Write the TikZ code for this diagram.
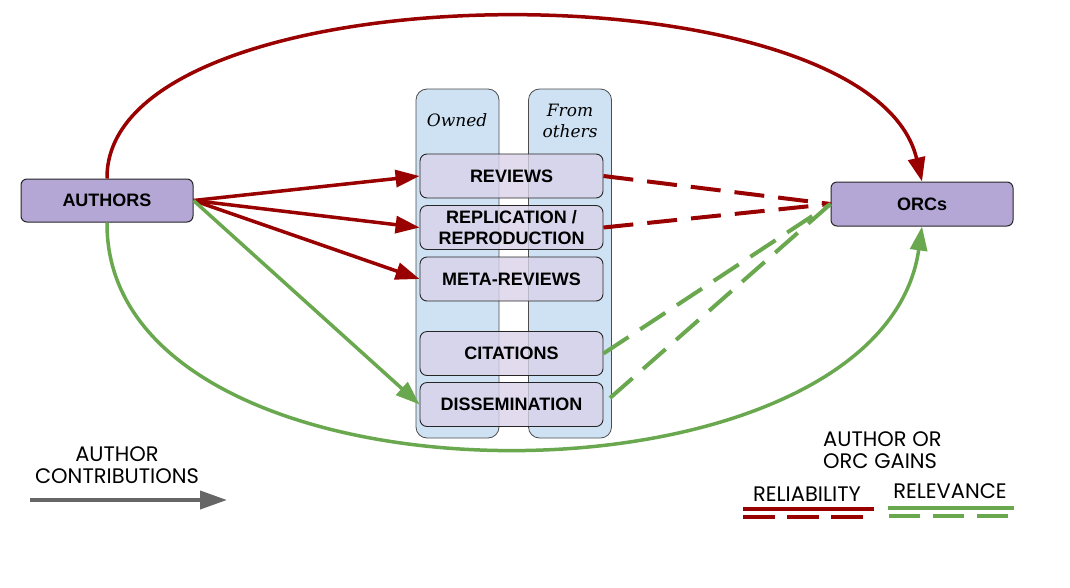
\documentclass[tikz,border=0pt]{standalone}
\usepackage{fontspec}
\setmainfont{Liberation Sans}
\newfontfamily\legfont{Poppins}
\newfontfamily\serifit{DejaVu Serif}
\usetikzlibrary{arrows.meta}
\definecolor{authfill}{HTML}{B4A7D6}
\definecolor{colfill}{HTML}{CFE2F3}
\definecolor{innerfill}{HTML}{D9D2E9}
\definecolor{redc}{HTML}{990000}
\definecolor{greenc}{HTML}{6AA84F}
\definecolor{grayc}{HTML}{666666}
\begin{document}
\begin{tikzpicture}[x=1pt,y=-1pt,
  actor/.style={draw=black!85, line width=1pt, fill=authfill, rounded corners=6pt, minimum width=172pt, minimum height=43pt, inner sep=0pt, font=\fontsize{18}{20}\selectfont\bfseries},
  column/.style={draw=black!70, line width=0.8pt, fill=colfill, rounded corners=11pt, minimum width=83pt, minimum height=349pt, inner sep=0pt},
  item/.style={draw=black!85, line width=0.9pt, fill=innerfill, fill opacity=0.8, text opacity=1, rounded corners=7pt, minimum width=183pt, minimum height=44pt, inner sep=0pt, align=center, font=\fontsize{18}{21}\selectfont\bfseries},
  flow/.style={line width=3.5pt, -{Triangle[length=24pt,width=17pt]}},
  gain/.style={line width=4pt, dash pattern=on 30pt off 14pt},
  colhead/.style={font=\fontsize{17}{21}\selectfont\serifit\itshape, align=center, inner sep=0pt},
  legtext/.style={font=\fontsize{21}{22}\selectfont\legfont, inner sep=0pt},
]
\useasboundingbox (0,0) rectangle (1070,587);
% columns
\node[column] (own) at (457.5,263.5) {};
\node[column] (oth) at (570,263.5) {};
\node[colhead] (ownl) at (457,120) {Owned};
\node[colhead] (othl) at (570,121) {From\\others};
% items
\node[item] (rev) at (511.5,176) {REVIEWS};
\node[item] (rep) at (511.5,227.5) {REPLICATION /\\REPRODUCTION};
\node[item] (met) at (511.5,279) {META-REVIEWS};
\node[item] (cit) at (511.5,353.5) {CITATIONS};
\node[item] (dis) at (511.5,404.5) {DISSEMINATION};
% actors
\node[actor] (A) at (107,200.5) {AUTHORS};
\node[actor, minimum width=182pt, minimum height=44pt] (O) at (922,204) {ORCs};
% author contributions
\draw[flow, redc] (A.east) -- (rev.west);
\draw[flow, redc] (A.east) -- (rep.west);
\draw[flow, redc] (A.east) -- (met.west);
\draw[flow, greenc] (A.east) -- (dis.west);
\draw[flow, redc] (A.north) .. controls (105,-33) and (870,-40) .. (O.north);
\draw[flow, greenc] (A.south) .. controls (105,522) and (880,522) .. (O.south);
% gains
\coordinate (disout) at (610,398);
\draw[gain, redc] (rev.east) -- (O.west);
\draw[gain, redc] (rep.east) -- (O.west);
\draw[gain, greenc] (cit.east) -- (O.west);
\draw[gain, greenc] (disout) -- (O.west);
% legend left
\node[legtext, align=center] (lc) at (117,465) {AUTHOR\\CONTRIBUTIONS};
\coordinate (g1) at (30,500);
\coordinate (g2) at (227,500);
\draw[line width=4pt, grayc, -{Triangle[length=27pt,width=18pt]}] (g1) -- (g2);
% legend right
\node[legtext, align=left, anchor=west] (lg) at (823,450) {AUTHOR OR\\ORC GAINS};
\node[legtext] (lrel) at (807,494) {RELIABILITY};
\node[legtext] (lrev) at (950,491) {RELEVANCE};
\coordinate (r1) at (743,509); \coordinate (r2) at (874,509);
\coordinate (r3) at (743,517); \coordinate (r4) at (863,517);
\coordinate (v1) at (888,508); \coordinate (v2) at (1014,508);
\coordinate (v3) at (889,516); \coordinate (v4) at (1008,516);
\draw[line width=4pt, redc] (r1) -- (r2);
\draw[line width=4pt, redc, dash pattern=on 32pt off 12pt] (r3) -- (r4);
\draw[line width=4pt, greenc] (v1) -- (v2);
\draw[line width=4pt, greenc, dash pattern=on 31pt off 13pt] (v3) -- (v4);
\end{tikzpicture}
\end{document}
